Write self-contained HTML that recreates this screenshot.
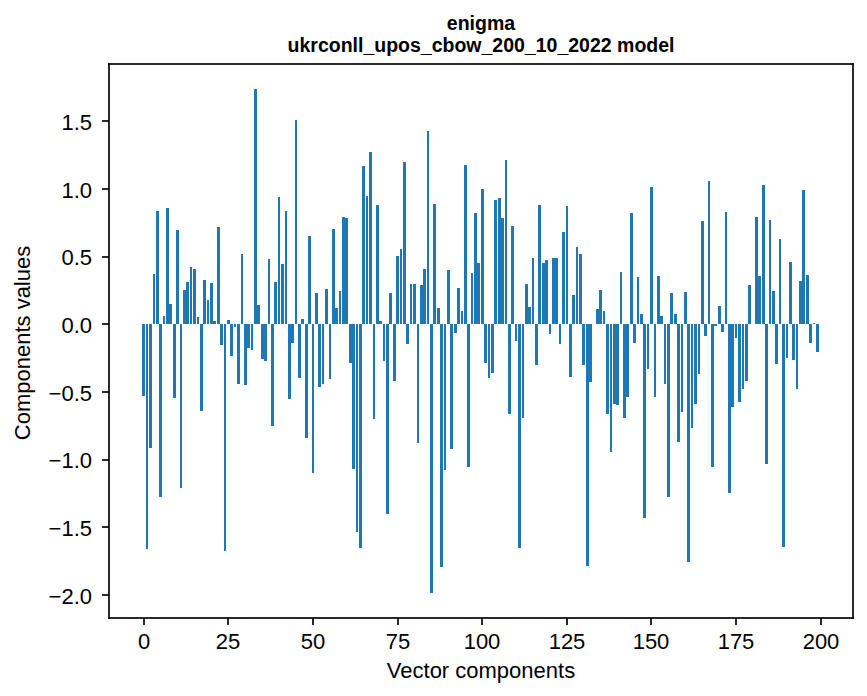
<!DOCTYPE html>
<html lang="en"><head><meta charset="utf-8"><title>enigma</title>
<style>html,body{margin:0;padding:0;background:#fff;}body{width:867px;height:696px;overflow:hidden;font-family:"Liberation Sans",sans-serif;}svg{display:block;position:absolute;left:0;top:0;}</style></head><body>
<svg width="867" height="696" viewBox="0 0 867 696" role="img" aria-label="Bar chart of vector components for enigma">
<rect x="0" y="0" width="867" height="696" fill="#ffffff"/>
<g id="bars" shape-rendering="crispEdges"><path fill="#1f77b4" d="M142 324h3v72h-3zM146 324h2v225h-2zM149 324h3v124h-3zM153 274h2v50h-2zM156 211h3v113h-3zM159 324h3v173h-3zM163 316h2v8h-2zM166 208h3v116h-3zM169 304h3v20h-3zM173 324h3v74h-3zM176 230h3v94h-3zM180 324h2v164h-2zM183 290h3v34h-3zM186 282h3v42h-3zM190 267h2v57h-2zM193 269h3v55h-3zM197 317h2v7h-2zM200 324h3v87h-3zM203 280h3v44h-3zM207 300h2v24h-2zM210 283h3v41h-3zM213 321h3v3h-3zM217 227h3v97h-3zM220 324h3v21h-3zM224 324h2v227h-2zM227 320h3v4h-3zM230 324h3v32h-3zM234 324h2v3h-2zM237 324h3v60h-3zM241 254h2v70h-2zM244 324h3v61h-3zM247 324h3v24h-3zM251 324h2v26h-2zM254 89h3v235h-3zM257 305h3v19h-3zM261 324h3v35h-3zM264 324h3v37h-3zM268 259h2v65h-2zM271 324h3v102h-3zM274 282h3v42h-3zM278 197h2v127h-2zM281 264h3v60h-3zM285 211h2v113h-2zM288 324h3v75h-3zM291 324h3v19h-3zM295 120h2v204h-2zM298 324h3v54h-3zM301 319h3v5h-3zM305 324h3v114h-3zM308 236h3v88h-3zM312 324h2v149h-2zM315 293h3v31h-3zM318 324h3v63h-3zM322 324h2v60h-2zM325 289h3v35h-3zM329 324h2v55h-2zM332 229h3v95h-3zM335 308h3v16h-3zM339 291h2v33h-2zM342 217h3v107h-3zM345 218h3v106h-3zM349 324h3v39h-3zM352 324h3v145h-3zM356 324h2v208h-2zM359 324h3v224h-3zM362 166h3v158h-3zM366 196h2v128h-2zM369 152h3v172h-3zM373 324h2v95h-2zM376 205h3v119h-3zM379 321h3v3h-3zM383 324h2v37h-2zM386 324h3v190h-3zM389 293h3v31h-3zM393 324h3v57h-3zM396 256h3v68h-3zM400 249h2v75h-2zM403 162h3v162h-3zM406 324h3v20h-3zM410 284h2v40h-2zM413 284h3v40h-3zM417 324h2v119h-2zM420 285h3v39h-3zM423 269h3v55h-3zM427 131h2v193h-2zM430 324h3v269h-3zM433 204h3v120h-3zM437 308h3v16h-3zM440 324h3v243h-3zM444 324h2v146h-2zM447 270h3v54h-3zM450 324h3v125h-3zM454 324h3v9h-3zM457 288h3v36h-3zM461 311h2v13h-2zM464 165h3v159h-3zM467 324h3v143h-3zM471 273h2v51h-2zM474 213h3v111h-3zM477 263h3v61h-3zM481 189h3v135h-3zM484 324h3v39h-3zM488 324h2v54h-2zM491 324h3v49h-3zM494 200h3v124h-3zM498 198h3v126h-3zM501 218h3v106h-3zM505 160h2v164h-2zM508 324h3v90h-3zM511 226h3v98h-3zM515 324h2v17h-2zM518 324h3v224h-3zM522 324h2v94h-2zM525 284h3v40h-3zM528 307h3v17h-3zM532 258h2v66h-2zM535 324h3v41h-3zM538 205h3v119h-3zM542 263h3v61h-3zM545 260h3v64h-3zM549 324h2v10h-2zM552 258h3v66h-3zM555 258h3v66h-3zM559 324h2v20h-2zM562 232h3v92h-3zM566 206h2v118h-2zM569 324h3v53h-3zM572 295h3v29h-3zM576 247h2v77h-2zM579 254h3v70h-3zM582 324h3v41h-3zM586 324h3v242h-3zM589 324h3v58h-3zM596 309h3v15h-3zM599 290h3v34h-3zM603 311h2v13h-2zM606 324h3v90h-3zM610 324h2v128h-2zM613 324h3v80h-3zM616 324h3v81h-3zM620 272h2v52h-2zM623 324h3v94h-3zM626 324h3v73h-3zM630 213h3v111h-3zM633 324h3v19h-3zM637 277h2v47h-2zM640 314h3v10h-3zM643 324h3v194h-3zM647 324h2v45h-2zM650 187h3v137h-3zM654 324h2v73h-2zM657 276h3v48h-3zM660 316h3v8h-3zM664 324h2v60h-2zM667 324h3v173h-3zM670 293h3v31h-3zM674 314h3v10h-3zM677 324h3v118h-3zM681 324h2v88h-2zM684 292h3v32h-3zM687 324h3v238h-3zM691 324h2v104h-2zM694 324h3v80h-3zM698 324h2v50h-2zM701 221h3v103h-3zM704 324h3v12h-3zM708 181h2v143h-2zM711 324h3v143h-3zM714 324h3v2h-3zM718 306h3v18h-3zM721 324h3v8h-3zM725 212h2v112h-2zM728 324h3v169h-3zM731 324h3v83h-3zM735 324h2v14h-2zM738 324h3v78h-3zM742 324h2v65h-2zM745 324h3v57h-3zM748 285h3v39h-3zM755 217h3v107h-3zM758 276h3v48h-3zM762 185h3v139h-3zM765 324h3v140h-3zM769 220h2v104h-2zM772 291h3v33h-3zM775 324h3v40h-3zM779 239h2v85h-2zM782 324h3v223h-3zM786 324h2v34h-2zM789 262h3v62h-3zM792 324h3v36h-3zM796 324h2v65h-2zM799 281h3v43h-3zM802 190h3v134h-3zM806 275h3v49h-3zM809 324h3v19h-3zM813 323h2v1h-2zM816 324h3v28h-3z"/></g>
<g id="ticks" fill="#000"><rect x="143.1667" y="618" width="1.6667" height="7"/><rect x="227.1667" y="618" width="1.6667" height="7"/><rect x="312.1667" y="618" width="1.6667" height="7"/><rect x="397.1667" y="618" width="1.6667" height="7"/><rect x="481.1667" y="618" width="1.6667" height="7"/><rect x="566.1667" y="618" width="1.6667" height="7"/><rect x="650.1667" y="618" width="1.6667" height="7"/><rect x="735.1667" y="618" width="1.6667" height="7"/><rect x="820.1667" y="618" width="1.6667" height="7"/><rect x="102" y="594.1667" width="7" height="1.6667"/><rect x="102" y="526.1667" width="7" height="1.6667"/><rect x="102" y="459.1667" width="7" height="1.6667"/><rect x="102" y="391.1667" width="7" height="1.6667"/><rect x="102" y="323.1667" width="7" height="1.6667"/><rect x="102" y="256.1667" width="7" height="1.6667"/><rect x="102" y="188.1667" width="7" height="1.6667"/><rect x="102" y="120.1667" width="7" height="1.6667"/></g>
<g id="spines" fill="#000"><rect x="108.1667" y="63.1667" width="1.6667" height="555.6667"/><rect x="852.1667" y="63.1667" width="1.6667" height="555.6667"/><rect x="108.1667" y="617.1667" width="745.6667" height="1.6667"/><rect x="108.1667" y="63.1667" width="745.6667" height="1.6667"/></g>
<g id="text-labels" font-family="&quot;Liberation Sans&quot;, sans-serif" font-size="22" fill="#000" stroke="none">
<g text-anchor="middle"><text x="144" y="649">0</text><text x="228" y="649">25</text><text x="313" y="649">50</text><text x="398" y="649">75</text><text x="482" y="649">100</text><text x="567" y="649">125</text><text x="651" y="649">150</text><text x="736" y="649">175</text><text x="821" y="649">200</text></g>
<g text-anchor="end"><text x="92" y="604">−2.0</text><text x="92" y="536">−1.5</text><text x="92" y="468">−1.0</text><text x="92" y="401">−0.5</text><text x="92" y="333">0.0</text><text x="92" y="265">0.5</text><text x="92" y="198">1.0</text><text x="92" y="130">1.5</text></g>
<text x="481" y="678" text-anchor="middle">Vector components</text>
<text x="30" y="343" text-anchor="middle" transform="rotate(-90 30 343)">Components values</text>
<text x="481" y="30" text-anchor="middle" font-size="19.5" font-weight="bold">enigma</text>
<text x="481" y="52" text-anchor="middle" font-size="19.5" font-weight="bold">ukrconll_upos_cbow_200_10_2022 model</text>
</g>
</svg>
</body></html>
